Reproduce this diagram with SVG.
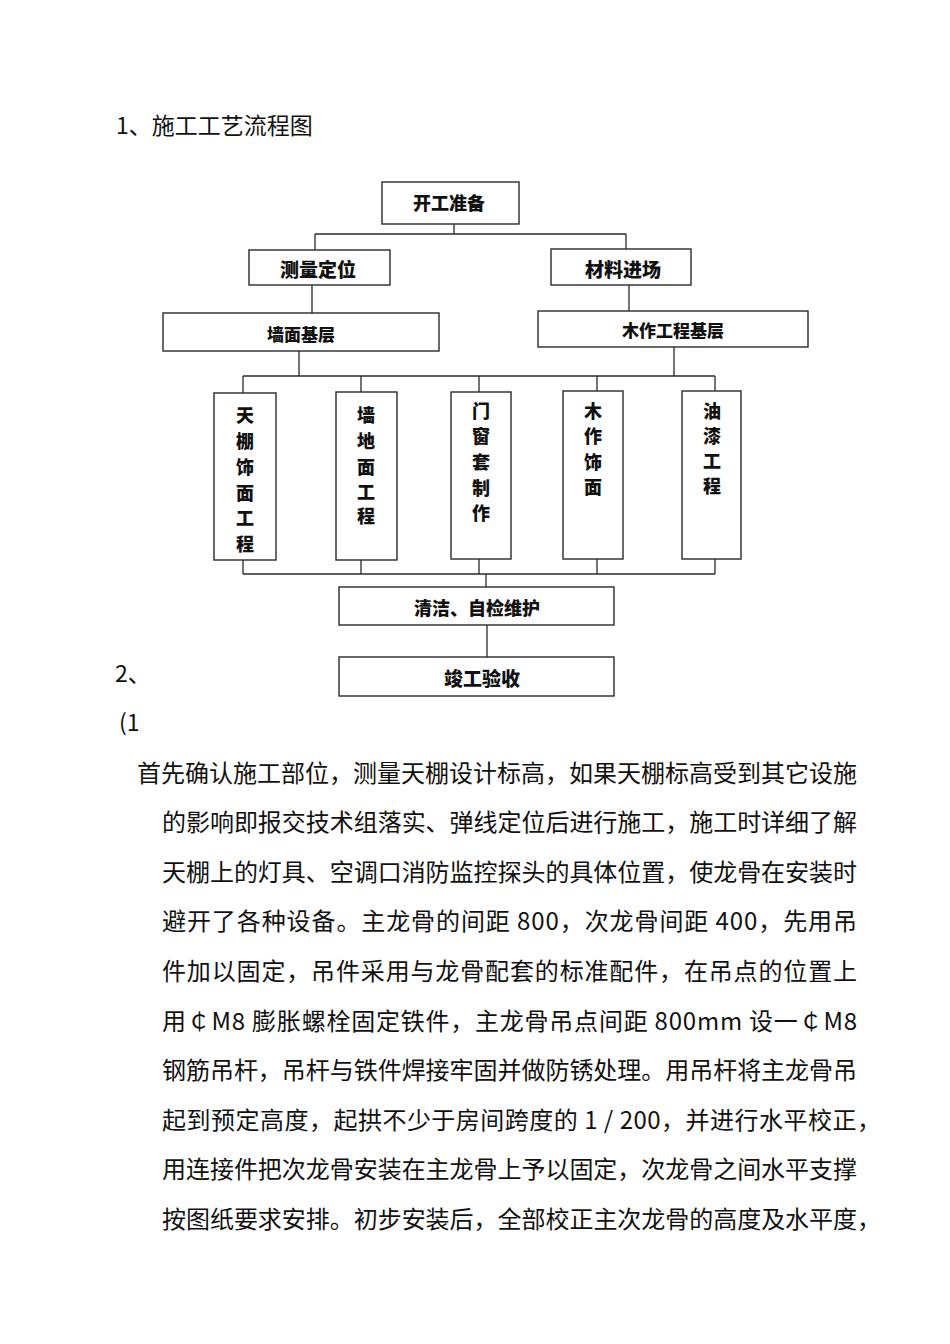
<svg xmlns="http://www.w3.org/2000/svg" width="950" height="1344" viewBox="0 0 950 1344">
<style>
.bg{fill:#ffffff}
.box{fill:#ffffff;stroke:#2a2a2a;stroke-width:1.4}
.conn{fill:none;stroke:#2a2a2a;stroke-width:1.3}
.lbl{font-family:"Noto Sans CJK SC","Noto Sans CJK TC",sans-serif;font-weight:900;fill:#111;text-anchor:middle;dominant-baseline:central}
.body{font-family:"Noto Sans CJK SC","Noto Sans CJK TC",sans-serif;font-size:24px;fill:#111}
.head{font-family:"Noto Sans CJK SC","Noto Sans CJK TC",sans-serif;font-size:23px;fill:#111}
</style>
<rect class="bg" x="0" y="0" width="950" height="1344"/>

<text class="head" x="116" y="134">1、施工工艺流程图</text>

<g id="connectors">
<path class="conn" d="M454,224 V234 M315,234 H626 M315,234 V250 M626,234 V249"/>
<path class="conn" d="M312,285 V313 M629,285 V311"/>
<path class="conn" d="M299,351 V376 M674,347 V376 M243,376 H715"/>
<path class="conn" d="M243,376 V393 M361,376 V392 M479,376 V392 M597,376 V391 M715,376 V391"/>
<path class="conn" d="M243,560 V574 M361,560 V574 M479,559 V574 M597,559 V574 M715,559 V574 M243,574 H715"/>
<path class="conn" d="M486,574 V587 M487,625 V657"/>
</g>

<g id="n-start">
<rect class="box" x="382" y="182" width="137" height="42"/>
<text class="lbl" x="449" y="202" font-size="18">开工准备</text>
</g>
<g id="n-measure">
<rect class="box" x="249" y="250" width="141" height="35"/>
<text class="lbl" x="318" y="268" font-size="19">测量定位</text>
</g>
<g id="n-material">
<rect class="box" x="551" y="249" width="140" height="36"/>
<text class="lbl" x="623" y="268" font-size="19">材料进场</text>
</g>
<g id="n-wallbase">
<rect class="box" x="163" y="313" width="276" height="38"/>
<text class="lbl" x="301" y="333" font-size="17">墙面基层</text>
</g>
<g id="n-woodbase">
<rect class="box" x="538" y="311" width="270" height="36"/>
<text class="lbl" x="673" y="329" font-size="17">木作工程基层</text>
</g>

<g id="n-ceiling">
<rect class="box" x="214" y="393" width="62" height="167"/>
<text class="lbl" font-size="18"><tspan x="245" y="414">天</tspan><tspan x="245" y="440">棚</tspan><tspan x="245" y="466">饰</tspan><tspan x="245" y="492">面</tspan><tspan x="245" y="517">工</tspan><tspan x="245" y="543">程</tspan></text>
</g>
<g id="n-wallfloor">
<rect class="box" x="336" y="392" width="61" height="168"/>
<text class="lbl" font-size="18"><tspan x="366" y="414">墙</tspan><tspan x="366" y="440">地</tspan><tspan x="366" y="466">面</tspan><tspan x="366" y="491">工</tspan><tspan x="366" y="515">程</tspan></text>
</g>
<g id="n-doorwin">
<rect class="box" x="451" y="392" width="60" height="167"/>
<text class="lbl" font-size="18"><tspan x="481" y="410">门</tspan><tspan x="481" y="435">窗</tspan><tspan x="481" y="461">套</tspan><tspan x="481" y="487">制</tspan><tspan x="481" y="512">作</tspan></text>
</g>
<g id="n-woodface">
<rect class="box" x="563" y="391" width="60" height="168"/>
<text class="lbl" font-size="18"><tspan x="593" y="410">木</tspan><tspan x="593" y="435">作</tspan><tspan x="593" y="461">饰</tspan><tspan x="593" y="486">面</tspan></text>
</g>
<g id="n-paint">
<rect class="box" x="682" y="391" width="59" height="168"/>
<text class="lbl" font-size="18"><tspan x="712" y="410">油</tspan><tspan x="712" y="435">漆</tspan><tspan x="712" y="460">工</tspan><tspan x="712" y="485">程</tspan></text>
</g>

<g id="n-clean">
<rect class="box" x="339" y="587" width="275" height="38"/>
<text class="lbl" x="477" y="607" font-size="18">清洁、自检维护</text>
</g>
<g id="n-accept">
<rect class="box" x="339" y="657" width="275" height="39"/>
<text class="lbl" x="482" y="677" font-size="19">竣工验收</text>
</g>

<text class="head" x="115" y="682">2、</text>
<text class="head" x="119" y="731">(1</text>

<g id="paragraph">
<text class="body" x="137" y="782" textLength="720" lengthAdjust="spacing">首先确认施工部位，测量天棚设计标高，如果天棚标高受到其它设施</text>
<text class="body" x="162" y="831" textLength="695" lengthAdjust="spacing">的影响即报交技术组落实、弹线定位后进行施工，施工时详细了解</text>
<text class="body" x="162" y="881" textLength="695" lengthAdjust="spacing">天棚上的灯具、空调口消防监控探头的具体位置，使龙骨在安装时</text>
<text class="body" x="162" y="930" textLength="695" lengthAdjust="spacing">避开了各种设备。主龙骨的间距 800，次龙骨间距 400，先用吊</text>
<text class="body" x="162" y="980" textLength="695" lengthAdjust="spacing">件加以固定，吊件采用与龙骨配套的标准配件，在吊点的位置上</text>
<text class="body" x="162" y="1030" textLength="695" lengthAdjust="spacing">用￠M8 膨胀螺栓固定铁件，主龙骨吊点间距 800mm 设一￠M8</text>
<text class="body" x="162" y="1079" textLength="695" lengthAdjust="spacing">钢筋吊杆，吊杆与铁件焊接牢固并做防锈处理。用吊杆将主龙骨吊</text>
<text class="body" x="162" y="1129" textLength="719" lengthAdjust="spacing">起到预定高度，起拱不少于房间跨度的 1 / 200，并进行水平校正，</text>
<text class="body" x="162" y="1178" textLength="695" lengthAdjust="spacing">用连接件把次龙骨安装在主龙骨上予以固定，次龙骨之间水平支撑</text>
<text class="body" x="162" y="1228" textLength="719" lengthAdjust="spacing">按图纸要求安排。初步安装后，全部校正主次龙骨的高度及水平度，</text>
</g>
</svg>
